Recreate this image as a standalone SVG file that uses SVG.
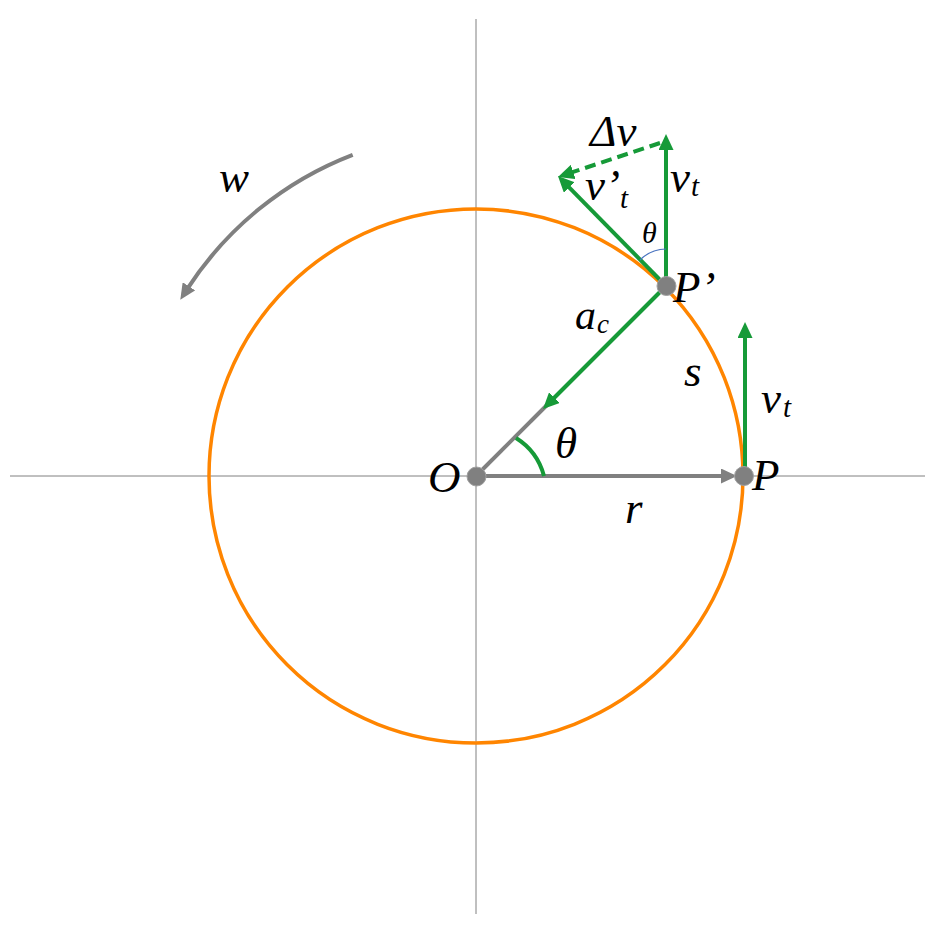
<svg xmlns="http://www.w3.org/2000/svg" width="945" height="945" viewBox="0 0 945 945">
<style>
.axis{stroke:#808080;stroke-width:1;fill:none}
.orbit{stroke:#ff8500;stroke-width:3.5;fill:none}
.gray{stroke:#808080;stroke-width:4;fill:none}
.green{stroke:#169a38;stroke-width:4;fill:none}
.dash{stroke:#169a38;stroke-width:4;fill:none;stroke-dasharray:11 6}
.thin{stroke:#4a74c0;stroke-width:1.2;fill:none}
.dot{fill:#808080;stroke:#a0a0a0;stroke-width:1}
text{font-family:"Liberation Serif","Times New Roman",serif;font-style:italic;fill:#000}
.big{font-size:45px}
.sub{font-size:29px}
</style>
<defs>
<marker id="ag" viewBox="0 0 16 15" markerWidth="16" markerHeight="15" refX="4" refY="7.5" orient="auto" markerUnits="userSpaceOnUse">
<path d="M0,0 L16,7.5 L0,15 z" fill="#169a38"/>
</marker>
<marker id="ay" viewBox="0 0 16 15" markerWidth="16" markerHeight="15" refX="4" refY="7.5" orient="auto" markerUnits="userSpaceOnUse">
<path d="M0,0 L16,7.5 L0,15 z" fill="#808080"/>
</marker>
</defs>
<g id="axes">
<line class="axis" x1="10" y1="476" x2="925" y2="476"/>
<line class="axis" x1="476" y1="19" x2="476" y2="914"/>
</g>
<g id="orbit">
<circle class="orbit" cx="476" cy="476" r="267"/>
</g>
<g id="connectors">
<path class="gray" d="M352.7,154.8 A344,344 0 0 0 186.8,289.7" marker-end="url(#ay)"/>
<line class="gray" x1="476" y1="476" x2="725" y2="476" marker-end="url(#ay)"/>
<line class="gray" x1="476" y1="476" x2="548" y2="404"/>
<line class="green" x1="666" y1="286" x2="551.5" y2="400.5" marker-end="url(#ag)"/>
<line class="green" x1="745" y1="476" x2="745" y2="334" marker-end="url(#ag)"/>
<line class="green" x1="666" y1="286" x2="666" y2="146" marker-end="url(#ag)"/>
<line class="green" x1="666" y1="286" x2="566.4" y2="184.6" marker-end="url(#ag)"/>
<line class="dash" x1="660" y1="143" x2="569.4" y2="173.2" marker-end="url(#ag)"/>
<path class="green" d="M544,476 A64,64 0 0 0 516,438"/>
<path class="thin" d="M640,260 A37,37 0 0 1 666,249"/>
</g>
<g id="O">
<circle class="dot" cx="476.5" cy="476.5" r="9.5"/>
<text class="big" x="428" y="492">O</text>
</g>
<g id="P">
<circle class="dot" cx="744" cy="476" r="9.5"/>
<text class="big" x="752" y="490">P</text>
</g>
<g id="Pprime">
<circle class="dot" cx="666.5" cy="286" r="9.5"/>
<text class="big" x="673" y="302">P’</text>
</g>
<g id="labels">
<text class="big" x="684" y="386">s</text>
<text class="big" x="761" y="413">v</text>
<text class="sub" x="783" y="417">t</text>
<text class="big" x="625" y="523">r</text>
<text class="big" x="555" y="458">θ</text>
<text style="font-size:42px" x="575" y="329">a</text>
<text style="font-size:27px" x="597" y="333">c</text>
<text class="big" x="219" y="192">w</text>
<text style="font-size:45px" x="590" y="146">Δv</text>
<text class="big" x="670" y="192">v</text>
<text class="sub" x="691" y="196">t</text>
<text class="big" x="585" y="200">v’</text>
<text class="sub" x="620" y="208">t</text>
<text style="font-size:30px" x="642" y="243">θ</text>
</g>
</svg>
